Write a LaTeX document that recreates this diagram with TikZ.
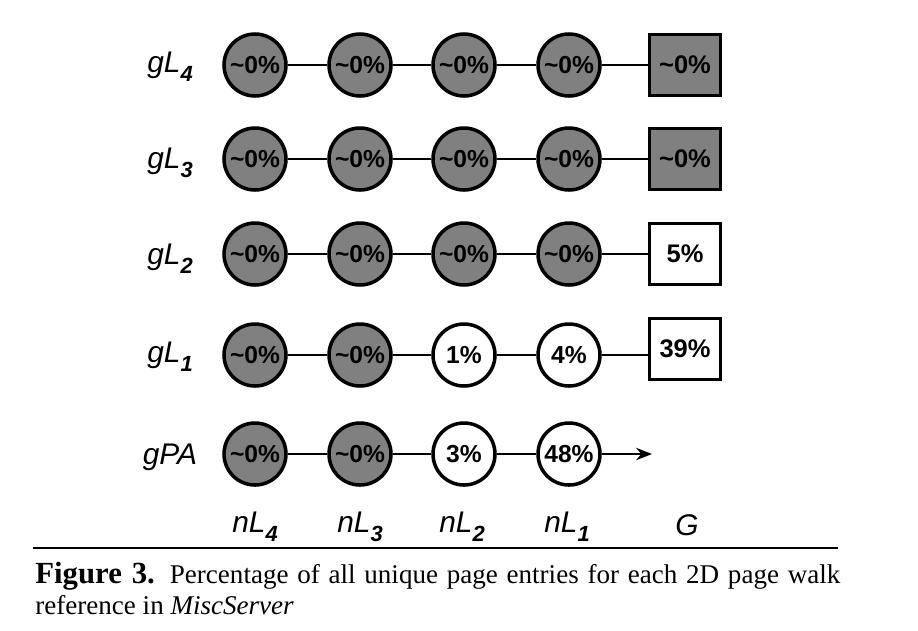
\documentclass[tikz,border=0pt]{standalone}
\usepackage{fontspec}
\setmainfont{Liberation Serif}
\setsansfont{Liberation Sans}
\usepackage{xcolor}
\usepackage{tikz}
\usetikzlibrary{arrows.meta,positioning,calc}
\definecolor{cellgray}{RGB}{128,128,128}
\tikzset{
  % Walk entry (circle) and guest-data entry (square)
  cell/.style={circle, draw=black, line width=2pt, fill=#1,
               minimum size=62*0.02cm, inner sep=0pt,
               font=\sffamily\bfseries\fontsize{14}{16}\selectfont},
  cell/.default=white,
  gbox/.style={rectangle, draw=black, line width=2pt, fill=#1,
               minimum width=71*0.02cm, minimum height=61*0.02cm, inner sep=0pt,
               font=\sffamily\bfseries\fontsize{14.5}{16}\selectfont},
  gbox/.default=white,
  % Axis labels
  lab/.style={font=\sffamily\itshape\fontsize{17}{19}\selectfont, inner sep=0pt},
  % Connectors
  link/.style={line width=1.6pt, draw=black},
  arr/.style ={link, -{Stealth[length=9pt,width=7pt]}},
}
\newcommand{\lvl}[2]{#1\raisebox{-0.55ex}{\fontsize{12.5}{13}\selectfont\bfseries #2}}
\newcommand{\zp}{\symbol{"7E}0\%}

\begin{document}
\begin{tikzpicture}[x=0.02cm,y=-0.02cm]
  \useasboundingbox (0,0) rectangle (918,630);

    % ── Row labels ─────────────────────────────────────────
    \node[lab] (rg4)  at (170,67)  {\lvl{gL}{4}};
    \node[lab] (rg3)  at (170,163) {\lvl{gL}{3}};
    \node[lab] (rg2)  at (170,259) {\lvl{gL}{2}};
    \node[lab] (rg1)  at (170,357) {\lvl{gL}{1}};
    \node[lab] (rgpa) at (170,457) {gPA};

    % ── Row gL4 ────────────────────────────────────────────
    \node[cell=cellgray] (g4n4) at (255,65) {\zp};
    \node[cell=cellgray] (g4n3) at (360,65) {\zp};
    \node[cell=cellgray] (g4n2) at (464,65) {\zp};
    \node[cell=cellgray] (g4n1) at (569,65) {\zp};
    \node[gbox=cellgray] (g4G)  at (685,65) {\zp};
    \draw[link] (g4n4) -- (g4n3) -- (g4n2) -- (g4n1) -- (g4G);

    % ── Row gL3 ────────────────────────────────────────────
    \node[cell=cellgray] (g3n4) at (255,159) {\zp};
    \node[cell=cellgray] (g3n3) at (360,159) {\zp};
    \node[cell=cellgray] (g3n2) at (464,159) {\zp};
    \node[cell=cellgray] (g3n1) at (569,159) {\zp};
    \node[gbox=cellgray] (g3G)  at (685,159) {\zp};
    \draw[link] (g3n4) -- (g3n3) -- (g3n2) -- (g3n1) -- (g3G);

    % ── Row gL2 ────────────────────────────────────────────
    \node[cell=cellgray] (g2n4) at (255,254) {\zp};
    \node[cell=cellgray] (g2n3) at (360,254) {\zp};
    \node[cell=cellgray] (g2n2) at (464,254) {\zp};
    \node[cell=cellgray] (g2n1) at (569,254) {\zp};
    \node[gbox]          (g2G)  at (685,254) {5\%};
    \draw[link] (g2n4) -- (g2n3) -- (g2n2) -- (g2n1) -- (g2G);

    % ── Row gL1 ────────────────────────────────────────────
    \node[cell=cellgray] (g1n4) at (255,355) {\zp};
    \node[cell=cellgray] (g1n3) at (360,355) {\zp};
    \node[cell]          (g1n2) at (464,355) {1\%};
    \node[cell]          (g1n1) at (569,355) {4\%};
    \node[gbox]          (g1G)  at (685,349) {39\%};
    \draw[link] (g1n4) -- (g1n3) -- (g1n2) -- (g1n1);
    \draw[link] (g1n1.east) -- (g1n1.east -| g1G.west);

    % ── Row gPA ────────────────────────────────────────────
    \node[cell=cellgray] (gpn4) at (255,454) {\zp};
    \node[cell=cellgray] (gpn3) at (360,454) {\zp};
    \node[cell]          (gpn2) at (464,454) {3\%};
    \node[cell]          (gpn1) at (569,454) {48\%};
    \coordinate (gpend) at (652,454);
    \draw[link] (gpn4) -- (gpn3) -- (gpn2) -- (gpn1);
    \draw[arr] (gpn1) -- (gpend);

    % ── Column labels ──────────────────────────────────────
    \node[lab] (cn4) at (255,527) {\lvl{nL}{4}};
    \node[lab] (cn3) at (360,527) {\lvl{nL}{3}};
    \node[lab] (cn2) at (462,527) {\lvl{nL}{2}};
    \node[lab] (cn1) at (567,527) {\lvl{nL}{1}};
    \node[lab] (cG)  at (687,525) {G};

    % ── Caption ────────────────────────────────────────────
    \coordinate (ruleL) at (33,548);
    \coordinate (ruleR) at (838,548);
    \draw[line width=0.7pt] (ruleL) -- (ruleR);
    \node[anchor=north west, inner sep=0pt, text width=805*0.02cm, align=justify,
          font=\fontsize{15.4}{17.6}\selectfont] (cap) at (35,562)
          {{\fontsize{17.5}{17.6}\selectfont\textbf{Figure 3.}} Percentage of all unique page entries
           for each 2D page walk reference in \textit{MiscServer}};

  \end{tikzpicture}
\end{document}
